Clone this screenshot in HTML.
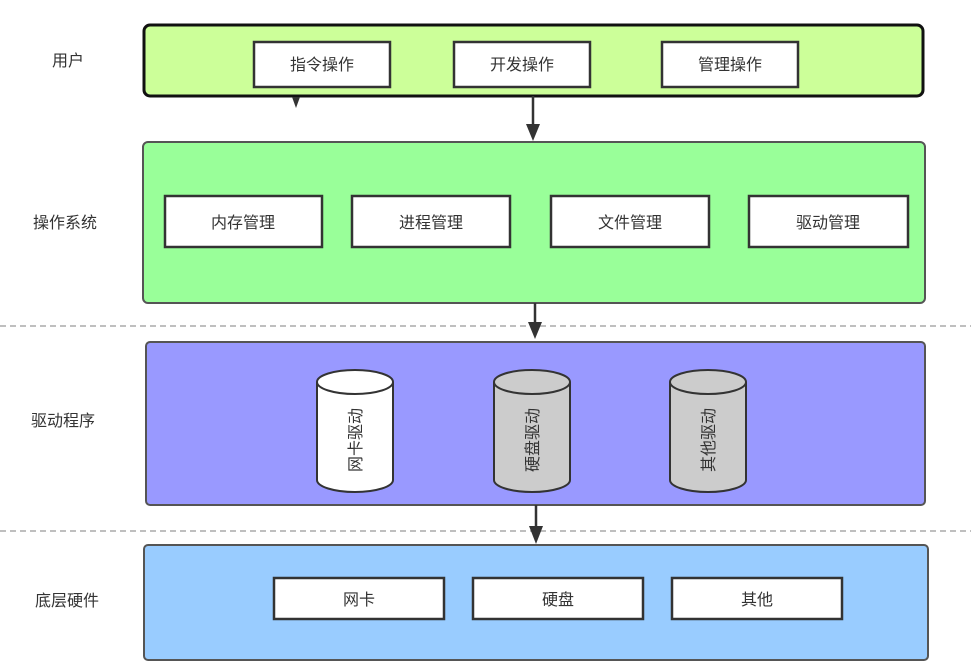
<!DOCTYPE html>
<html><head><meta charset="utf-8"><style>
html,body{margin:0;padding:0;background:#fff;}
svg{display:block;}
text{font-family:"Liberation Sans","Noto Sans CJK SC",sans-serif;font-size:16px;fill:#333;}
</style></head><body>
<svg width="971" height="667" viewBox="0 0 971 667">
<defs>
<marker id="ah" markerWidth="10" markerHeight="12" refX="5" refY="11" orient="auto-start-reverse" markerUnits="userSpaceOnUse">
</marker>
</defs>
<!-- dashed lines -->
<line x1="0" y1="326" x2="971" y2="326" stroke="#aaa" stroke-width="1.5" stroke-dasharray="6,4"/>
<line x1="0" y1="531" x2="971" y2="531" stroke="#aaa" stroke-width="1.5" stroke-dasharray="6,4"/>

<!-- user -->
<rect x="144" y="25" width="779" height="71" rx="6" fill="#ccff99" stroke="#111" stroke-width="3"/>
<g stroke="#333" stroke-width="2.5" fill="#fff">
<rect x="254" y="42" width="136" height="45"/>
<rect x="454" y="42" width="136" height="45"/>
<rect x="662" y="42" width="136" height="45"/>
</g>
<text x="322" y="70" text-anchor="middle">指令操作</text>
<text x="522" y="70" text-anchor="middle">开发操作</text>
<text x="730" y="70" text-anchor="middle">管理操作</text>
<polygon points="292,97 300,97 296,108" fill="#333"/>
<line x1="533" y1="96" x2="533" y2="126" stroke="#333" stroke-width="2.5"/>
<polygon points="526,124 540,124 533,141" fill="#333"/>

<!-- OS -->
<rect x="143" y="142" width="782" height="161" rx="5" fill="#99ff99" stroke="#555" stroke-width="2"/>
<g stroke="#333" stroke-width="2.5" fill="#fff">
<rect x="165" y="196" width="157" height="51"/>
<rect x="352" y="196" width="158" height="51"/>
<rect x="551" y="196" width="158" height="51"/>
<rect x="749" y="196" width="159" height="51"/>
</g>
<text x="243" y="228" text-anchor="middle">内存管理</text>
<text x="431" y="228" text-anchor="middle">进程管理</text>
<text x="630" y="228" text-anchor="middle">文件管理</text>
<text x="828" y="228" text-anchor="middle">驱动管理</text>
<line x1="535" y1="303" x2="535" y2="324" stroke="#333" stroke-width="2.5"/>
<polygon points="528,322 542,322 535,339" fill="#333"/>

<!-- driver -->
<rect x="146" y="342" width="779" height="163" rx="4" fill="#9999ff" stroke="#555" stroke-width="2"/>
<g stroke="#333" stroke-width="2">
<path d="M317,382 L317,480 A38,12 0 0 0 393,480 L393,382" fill="#fff"/>
<ellipse cx="355" cy="382" rx="38" ry="12" fill="#fff"/>
<path d="M494,382 L494,480 A38,12 0 0 0 570,480 L570,382" fill="#ccc"/>
<ellipse cx="532" cy="382" rx="38" ry="12" fill="#ccc"/>
<path d="M670,382 L670,480 A38,12 0 0 0 746,480 L746,382" fill="#ccc"/>
<ellipse cx="708" cy="382" rx="38" ry="12" fill="#ccc"/>
</g>
<text transform="translate(361,440) rotate(-90)" text-anchor="middle">网卡驱动</text>
<text transform="translate(538,440) rotate(-90)" text-anchor="middle">硬盘驱动</text>
<text transform="translate(714,440) rotate(-90)" text-anchor="middle">其他驱动</text>
<line x1="536" y1="505" x2="536" y2="528" stroke="#333" stroke-width="2.5"/>
<polygon points="529,526 543,526 536,544" fill="#333"/>

<!-- hardware -->
<rect x="144" y="545" width="784" height="115" rx="4" fill="#99ccff" stroke="#555" stroke-width="2"/>
<g stroke="#333" stroke-width="2.5" fill="#fff">
<rect x="274" y="578" width="170" height="41"/>
<rect x="473" y="578" width="170" height="41"/>
<rect x="672" y="578" width="170" height="41"/>
</g>
<text x="359" y="605" text-anchor="middle">网卡</text>
<text x="558" y="605" text-anchor="middle">硬盘</text>
<text x="757" y="605" text-anchor="middle">其他</text>

<!-- side labels -->
<text x="68" y="66" text-anchor="middle">用户</text>
<text x="65" y="228" text-anchor="middle">操作系统</text>
<text x="63" y="426" text-anchor="middle">驱动程序</text>
<text x="67" y="606" text-anchor="middle">底层硬件</text>
</svg>
</body></html>
